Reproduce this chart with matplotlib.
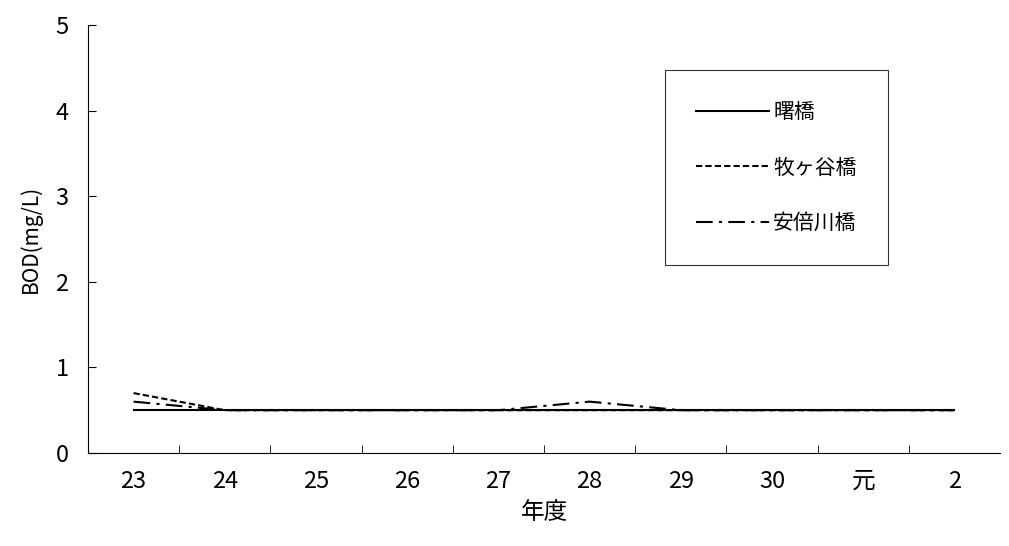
import matplotlib
matplotlib.use("Agg")
import matplotlib.pyplot as plt
import numpy as np

plt.rcParams["font.family"] = ["Noto Sans CJK JP", "DejaVu Sans"]

years = ["23", "24", "25", "26", "27", "28", "29", "30", "元", "2"]
akebono = [0.5, 0.5, 0.5, 0.5, 0.5, 0.5, 0.5, 0.5, 0.5, 0.5]
makigaya = [0.7, 0.5, 0.5, 0.5, 0.5, 0.5, 0.5, 0.5, 0.5, 0.5]
abekawa = [0.6, 0.5, 0.5, 0.5, 0.5, 0.6, 0.5, 0.5, 0.5, 0.5]

fig = plt.figure(figsize=(10.09, 5.46), dpi=100)
ax = fig.add_axes([88 / 1009, 1 - 453 / 546, 912 / 1009, 428 / 546])

x = np.arange(len(years))
ax.plot(x, akebono, color="black", linewidth=1.5, linestyle="-", label="曙橋")
ax.plot(x, makigaya, color="black", linewidth=1.5, linestyle=(0, (3, 1.5)), label="牧ヶ谷橋")
ax.plot(x, abekawa, color="black", linewidth=1.5, linestyle=(0, (8, 3, 1.5, 3)), label="安倍川橋")

ax.set_xlim(-0.5, len(years) - 0.5)
ax.set_ylim(0, 5)
ax.set_yticks(range(6))
ax.set_xticks(x)
ax.set_xticklabels(years, fontsize=17)
ax.set_xticks(x[:-1] + 0.5, minor=True)
ax.tick_params(axis="x", which="major", length=0, pad=12)
ax.tick_params(axis="x", which="minor", length=6, direction="in")
ax.tick_params(axis="y", labelsize=17, direction="in", length=6, pad=14)
ax.spines["top"].set_visible(False)
ax.spines["right"].set_visible(False)
ax.set_xlabel("年度", fontsize=17, labelpad=6)
ax.set_ylabel("BOD(mg/L)", fontsize=15, labelpad=10)

leg = ax.legend(loc="upper left", bbox_to_anchor=(577 / 912, 1 - 45 / 428), frameon=True,
                fancybox=False, edgecolor="black", fontsize=15, handlelength=3.5,
                labelspacing=1.6, borderpad=1.5, handletextpad=0.2, borderaxespad=0)
leg.get_frame().set_linewidth(0.8)

fig.savefig("out.png", dpi=100)
